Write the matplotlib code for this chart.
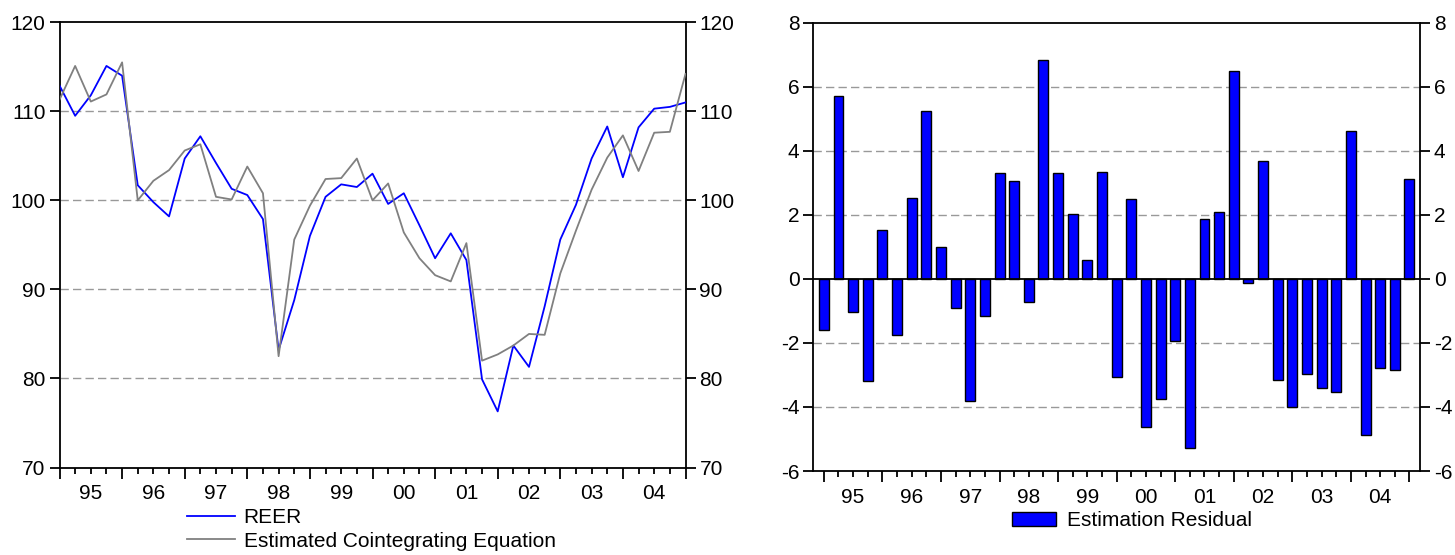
import numpy as np
import matplotlib
matplotlib.use("Agg")
import matplotlib.pyplot as plt
from matplotlib.ticker import MultipleLocator, FuncFormatter

plt.rcParams['font.family'] = ['Liberation Sans', 'DejaVu Sans']
plt.rcParams['axes.unicode_minus'] = False

# quarterly obs, positions 0..40 (major tick = start of year)
years = ['95', '96', '97', '98', '99', '00', '01', '02', '03', '04']

reer = [112.9, 109.5, 111.8, 115.1, 114.0, 101.7, 99.8, 98.2, 104.7, 107.2,
        104.2, 101.3, 100.6, 97.9, 83.2, 88.8, 96.0, 100.4, 101.8, 101.5,
        103.0, 99.6, 100.8, 97.2, 93.5, 96.3, 93.3, 79.9, 76.3, 83.7,
        81.3, 88.1, 95.6, 99.5, 104.7, 108.3, 102.6, 108.2, 110.3, 110.5,
        111.0]

coint_eq = [111.3, 115.1, 111.1, 111.9, 115.5, 100.0, 102.2, 103.4, 105.6, 106.3,
            100.4, 100.1, 103.8, 100.8, 82.5, 95.6, 99.4, 102.4, 102.5, 104.7,
            100.0, 101.9, 96.4, 93.5, 91.6, 90.9, 95.2, 82.0, 82.7, 83.7,
            85.0, 84.9, 91.8, 96.6, 101.2, 104.8, 107.3, 103.3, 107.6, 107.7,
            114.2]

resid = [-1.61, 5.72, -1.05, -3.18, 1.53, -1.74, 2.53, 5.24, 0.99, -0.90,
         -3.82, -1.15, 3.31, 3.04, -0.73, 6.83, 3.31, 2.03, 0.60, 3.33,
         -3.07, 2.48, -4.64, -3.74, -1.95, -5.28, 1.86, 2.09, 6.48, -0.12,
         3.67, -3.16, -3.99, -2.97, -3.40, -3.54, 4.61, -4.88, -2.79, -2.86,
         3.13]

x = np.arange(len(reer))

W, H = 1455, 555
FS = 15
fig = plt.figure(figsize=(W / 100, H / 100), dpi=100)
ax1 = fig.add_axes([59.5 / W, 1 - 467.5 / H, 626 / W, 445.2 / H])
ax2 = fig.add_axes([813.3 / W, 1 - 471 / H, 606.7 / W, 448.5 / H])

grid_kw = dict(color='#999999', linestyle=(0, (6, 3)), linewidth=1.0, zorder=0)


def year_label(v, pos):
    k = int(round(v))
    if k % 4 == 2 and 0 <= (k - 2) // 4 < len(years):
        return years[(k - 2) // 4]
    return ''


def style_axis(ax):
    for s in ax.spines.values():
        s.set_linewidth(1.3)
        s.set_color('black')
    ax.xaxis.set_major_locator(MultipleLocator(4))
    ax.xaxis.set_minor_locator(MultipleLocator(1))
    ax.xaxis.set_major_formatter(FuncFormatter(lambda v, p: ''))
    ax.xaxis.set_minor_formatter(FuncFormatter(year_label))
    ax.tick_params(axis='x', which='major', length=8, width=1.3, direction='out', top=False)
    ax.tick_params(axis='x', which='minor', length=4, width=1.3, direction='out',
                   top=False, labelsize=FS, pad=8)
    ax.tick_params(axis='y', which='major', length=7, width=1.3, direction='out',
                   left=True, right=True, labelleft=True, labelright=True,
                   labelsize=FS, pad=3)


# left panel: lines
ax1.plot(x, reer, color='#0000ff', linewidth=1.3, label='REER', zorder=3)
ax1.plot(x, coint_eq, color='#808080', linewidth=1.3,
         label='Estimated Cointegrating Equation', zorder=3)
ax1.set_xlim(0, 40)
ax1.set_ylim(70, 120)
ax1.set_yticks(np.arange(70, 121, 10))
for g in [80, 90, 100, 110]:
    ax1.axhline(g, **grid_kw)
style_axis(ax1)

fig.legend(*ax1.get_legend_handles_labels(), loc='upper left',
           bbox_to_anchor=(177 / W, 1 - 498 / H), frameon=False, fontsize=FS,
           borderpad=0, handlelength=2.3, handletextpad=0.4, labelspacing=0.2)

# right panel: bars
ax2.bar(x, resid, width=0.68, color='#0000ff', edgecolor='black', linewidth=1.0,
        label='Estimation Residual', zorder=3)
ax2.axhline(0, color='black', linewidth=1.3, zorder=4)
ax2.set_xlim(-0.72, 40.72)
ax2.set_ylim(-6, 8)
ax2.set_yticks(np.arange(-6, 9, 2))
for g in [-4, -2, 2, 4, 6]:
    ax2.axhline(g, **grid_kw)
style_axis(ax2)

fig.legend(*ax2.get_legend_handles_labels(), loc='upper left',
           bbox_to_anchor=(1002 / W, 1 - 501 / H), frameon=False, fontsize=FS,
           borderpad=0, handlelength=2.1, handleheight=0.7, handletextpad=0.5)

fig.savefig('out.png', dpi=100)
